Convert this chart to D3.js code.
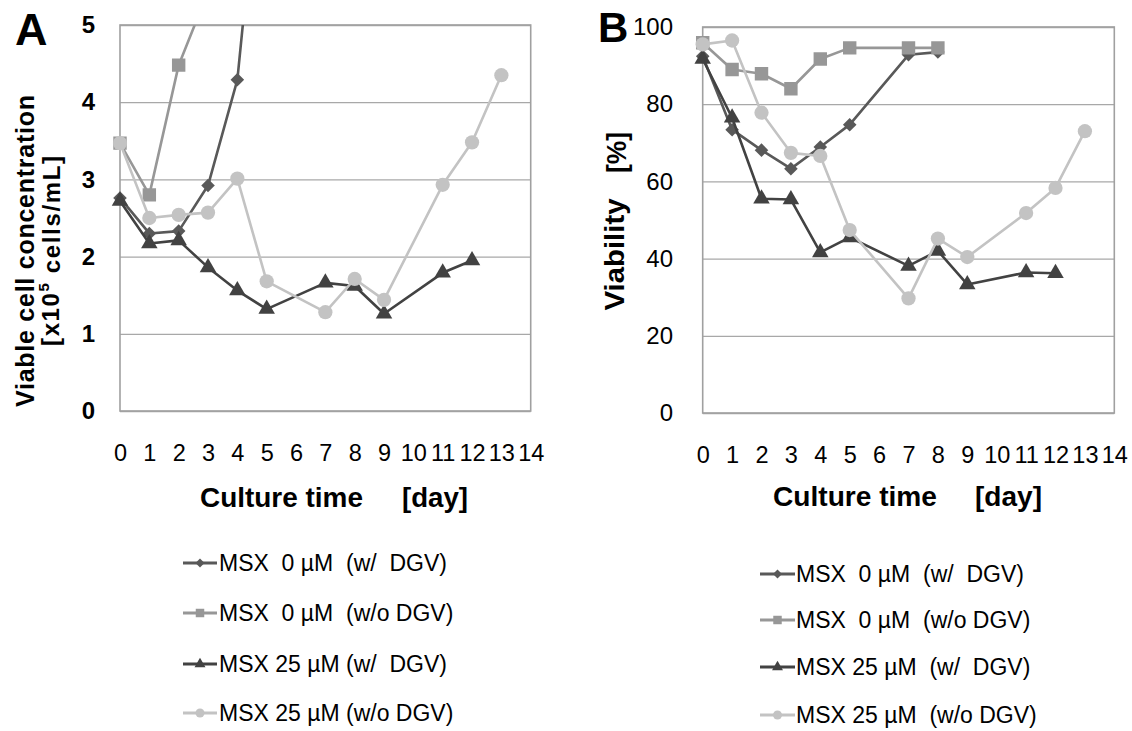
<!DOCTYPE html>
<html>
<head>
<meta charset="utf-8">
<script src="https://cdn.jsdelivr.net/npm/d3@7"></script>
<style>
  body { margin: 0; background: #fff; }
  svg { display: block; font-family: "Liberation Sans", Arial, sans-serif; }
  .pre { white-space: pre; }
</style>
</head>
<body>
<svg id="chart" width="1132" height="731"></svg>
<script>
// ---- axis ticks ----
const dayTicks = [0, 1, 2, 3, 4, 5, 6, 7, 8, 9, 10, 11, 12, 13, 14];
const cellTicks = [0, 1, 2, 3, 4, 5];
const viabilityTicks = [0, 20, 40, 60, 80, 100];

// ---- legend labels ----
const legendLabelsA = ["MSX  0 µM  (w/  DGV)", "MSX  0 µM  (w/o DGV)", "MSX 25 µM (w/  DGV)", "MSX 25 µM (w/o DGV)"];
const legendLabelsB = ["MSX  0 µM  (w/  DGV)", "MSX  0 µM  (w/o DGV)", "MSX 25 µM  (w/  DGV)", "MSX 25 µM  (w/o DGV)"];

// ---- A: viable cell concentration [x10^5 cells/mL] ----
const cellMsx0WithDays = [0, 1, 2, 3, 4, 5];
const cellMsx0WithValues = [2.76, 2.30, 2.33, 2.92, 4.29, 8.1];
const cellMsx0WithoutDays = [0, 1, 2, 3];
const cellMsx0WithoutValues = [3.47, 2.80, 4.48, 5.43];
const cellMsx25WithDays = [0, 1, 2, 3, 4, 5, 7, 8, 9, 11, 12];
const cellMsx25WithValues = [2.72, 2.17, 2.21, 1.86, 1.56, 1.32, 1.66, 1.62, 1.26, 1.79, 1.95];
const cellMsx25WithoutDays = [0, 1, 2, 3, 4, 5, 7, 8, 9, 11, 12, 13];
const cellMsx25WithoutValues = [3.47, 2.50, 2.54, 2.57, 3.01, 1.68, 1.28, 1.71, 1.44, 2.93, 3.48, 4.35];

// ---- B: viability [%] ----
const viaMsx0WithDays = [0, 1, 2, 3, 4, 5, 7, 8];
const viaMsx0WithValues = [92.4, 73.4, 68.1, 63.3, 68.9, 74.7, 92.8, 93.5];
const viaMsx0WithoutDays = [0, 1, 2, 3, 4, 5, 7, 8];
const viaMsx0WithoutValues = [95.9, 89.0, 87.9, 84.0, 91.7, 94.6, 94.6, 94.6];
const viaMsx25WithDays = [0, 1, 2, 3, 4, 5, 7, 8, 9, 11, 12];
const viaMsx25WithValues = [91.7, 76.5, 55.5, 55.3, 41.6, 45.5, 38.1, 42.0, 33.3, 36.4, 36.2];
const viaMsx25WithoutDays = [0, 1, 2, 3, 4, 5, 7, 8, 9, 11, 12, 13];
const viaMsx25WithoutValues = [95.5, 96.5, 77.8, 67.4, 66.6, 47.4, 29.7, 45.2, 40.4, 51.8, 58.3, 73.0];

// ---- series appearance (drawing order: diamond, square, triangle, circle) ----
const seriesStyles = [
  { color: "#595959", type: d3.symbolSquare, size: 92, rotate: 45, legSize: 40 },
  { color: "#979797", type: d3.symbolSquare, size: 180, rotate: 0, legSize: 72 },
  { color: "#424242", type: d3.symbolTriangle, size: 118, rotate: 0, legSize: 52 },
  { color: "#c3c3c3", type: d3.symbolCircle, size: 160, rotate: 0, legSize: 64 }
];

const zip = (days, vals) => days.map((d, i) => ({ day: d, v: vals[i] }));

const panelA = {
  id: "A",
  left: 120, right: 530.7, top: 25, bottom: 411,
  yDomain: [0, 5], yTicks: cellTicks, yLabelRight: 95, yBold: true, xPad: 33,
  series: [
    zip(cellMsx0WithDays, cellMsx0WithValues),
    zip(cellMsx0WithoutDays, cellMsx0WithoutValues),
    zip(cellMsx25WithDays, cellMsx25WithValues),
    zip(cellMsx25WithoutDays, cellMsx25WithoutValues)
  ]
};
const panelB = {
  id: "B",
  left: 702.7, right: 1114.3, top: 27, bottom: 413,
  yDomain: [0, 100], yTicks: viabilityTicks, yLabelRight: 673, yBold: false, xPad: 33,
  series: [
    zip(viaMsx0WithDays, viaMsx0WithValues),
    zip(viaMsx0WithoutDays, viaMsx0WithoutValues),
    zip(viaMsx25WithDays, viaMsx25WithValues),
    zip(viaMsx25WithoutDays, viaMsx25WithoutValues)
  ]
};

const svg = d3.select("#chart");
const intFmt = d3.format("d");

function plainAxis(sel) {
  sel.attr("font-family", null).attr("font-size", null);
  sel.select(".domain").remove();
}

function drawPanel(p) {
  const g = svg.append("g").attr("class", "panel-" + p.id);
  const x = d3.scaleLinear().domain([0, 14]).range([p.left, p.right]);
  const y = d3.scaleLinear().domain(p.yDomain).range([p.bottom, p.top]);

  // horizontal gridlines
  g.append("g")
    .attr("transform", `translate(${p.left},0)`)
    .call(d3.axisLeft(y).tickValues(p.yTicks).tickSize(-(p.right - p.left)).tickFormat(""))
    .call(plainAxis)
    .call(s => s.selectAll("line").attr("stroke", "#a8a8a8").attr("stroke-width", 1.3));

  // plot frame
  g.append("rect")
    .attr("x", p.left).attr("y", p.top)
    .attr("width", p.right - p.left).attr("height", p.bottom - p.top)
    .attr("fill", "none").attr("stroke", "#a0a0a0").attr("stroke-width", 1.6);

  // y tick labels
  g.append("g")
    .attr("transform", `translate(${p.yLabelRight},0)`)
    .call(d3.axisLeft(y).tickValues(p.yTicks).tickSize(0).tickPadding(0).tickFormat(intFmt))
    .call(plainAxis)
    .call(s => s.selectAll("text")
      .attr("font-size", 24)
      .attr("font-weight", p.yBold ? "bold" : "normal")
      .attr("fill", "#000"));

  // x tick labels
  g.append("g")
    .attr("transform", `translate(0,${p.bottom})`)
    .call(d3.axisBottom(x).tickValues(dayTicks).tickSize(0).tickPadding(p.xPad).tickFormat(intFmt))
    .call(plainAxis)
    .call(s => s.selectAll("text").attr("font-size", 23.5).attr("fill", "#000"));

  // clipped data layer
  const clipId = "clip-" + p.id;
  svg.append("clipPath").attr("id", clipId)
    .append("rect")
    .attr("x", p.left - 12).attr("y", p.top)
    .attr("width", p.right - p.left + 24).attr("height", p.bottom - p.top + 12);

  const data = g.append("g").attr("clip-path", `url(#${clipId})`);
  const line = d3.line().x(d => x(d.day)).y(d => y(d.v));

  p.series.forEach((pts, i) => {
    const st = seriesStyles[i];
    const sg = data.append("g");
    sg.append("path")
      .attr("d", line(pts))
      .attr("fill", "none")
      .attr("stroke", st.color)
      .attr("stroke-width", 2.6)
      .attr("stroke-linejoin", "round");
    sg.selectAll("path.mark")
      .data(pts)
      .join("path")
      .attr("class", "mark")
      .attr("d", d3.symbol().type(st.type).size(st.size))
      .attr("transform", d => `translate(${x(d.day)},${y(d.v)}) rotate(${st.rotate})`)
      .attr("fill", st.color);
  });
}

drawPanel(panelA);
drawPanel(panelB);

// ---- panel letters ----
svg.append("text").attr("x", 15).attr("y", 45)
  .attr("font-size", 45).attr("font-weight", "bold").text("A");
svg.append("text").attr("x", 598).attr("y", 42)
  .attr("font-size", 42).attr("font-weight", "bold").text("B");

// ---- axis titles ----
const titles = svg.append("g").attr("font-weight", "bold").attr("fill", "#000");

// panel A, y
titles.append("text")
  .attr("transform", "translate(25,251) rotate(-90)")
  .attr("text-anchor", "middle").attr("dy", "0.35em")
  .attr("font-size", 25)
  .attr("textLength", 312).attr("lengthAdjust", "spacing")
  .text("Viable cell concentration");
const yA2 = titles.append("text")
  .attr("transform", "translate(51,251) rotate(-90)")
  .attr("text-anchor", "middle").attr("dy", "0.35em")
  .attr("font-size", 24)
  .attr("textLength", 190).attr("lengthAdjust", "spacing");
yA2.append("tspan").text("[x10");
yA2.append("tspan").attr("font-size", 15).attr("dy", "-0.7em").text("5");
yA2.append("tspan").attr("dy", "0.45em").text(" cells/mL]");

// panel B, y
titles.append("text")
  .attr("transform", "translate(615,254.5) rotate(-90)")
  .attr("text-anchor", "middle").attr("dy", "0.35em")
  .attr("font-size", 27)
  .attr("textLength", 112).attr("lengthAdjust", "spacingAndGlyphs")
  .text("Viability");
titles.append("text")
  .attr("transform", "translate(617,152.5) rotate(-90)")
  .attr("text-anchor", "middle").attr("dy", "0.35em")
  .attr("font-size", 27)
  .attr("textLength", 41).attr("lengthAdjust", "spacingAndGlyphs")
  .text("[%]");

// x titles
function xTitle(x1, w1, x2, w2, yc) {
  titles.append("text").attr("x", x1).attr("y", yc).attr("dy", "0.35em")
    .attr("font-size", 27).attr("textLength", w1).attr("lengthAdjust", "spacingAndGlyphs")
    .text("Culture time");
  titles.append("text").attr("x", x2).attr("y", yc).attr("dy", "0.35em")
    .attr("font-size", 27).attr("textLength", w2).attr("lengthAdjust", "spacingAndGlyphs")
    .text("[day]");
}
xTitle(200, 163, 402, 66, 498);
xTitle(773, 164, 975, 67, 497);

// ---- legends ----
function drawLegend(labels, x0, x1, textX, rows) {
  const lg = svg.append("g");
  labels.forEach((lab, i) => {
    const st = seriesStyles[i];
    const yy = rows[i];
    lg.append("line")
      .attr("x1", x0).attr("x2", x1).attr("y1", yy).attr("y2", yy)
      .attr("stroke", st.color).attr("stroke-width", 3);
    lg.append("path")
      .attr("d", d3.symbol().type(st.type).size(st.legSize))
      .attr("transform", `translate(${(x0 + x1) / 2},${yy}) rotate(${st.rotate})`)
      .attr("fill", st.color);
    lg.append("text")
      .attr("class", "pre")
      .attr("x", textX).attr("y", yy).attr("dy", "0.35em")
      .attr("font-size", 23).attr("fill", "#000")
      .text(lab);
  });
}
drawLegend(legendLabelsA, 183, 217, 219, [563, 613, 664, 713]);
drawLegend(legendLabelsB, 760, 795, 796, [574, 620, 667, 715]);
</script>
</body>
</html>
